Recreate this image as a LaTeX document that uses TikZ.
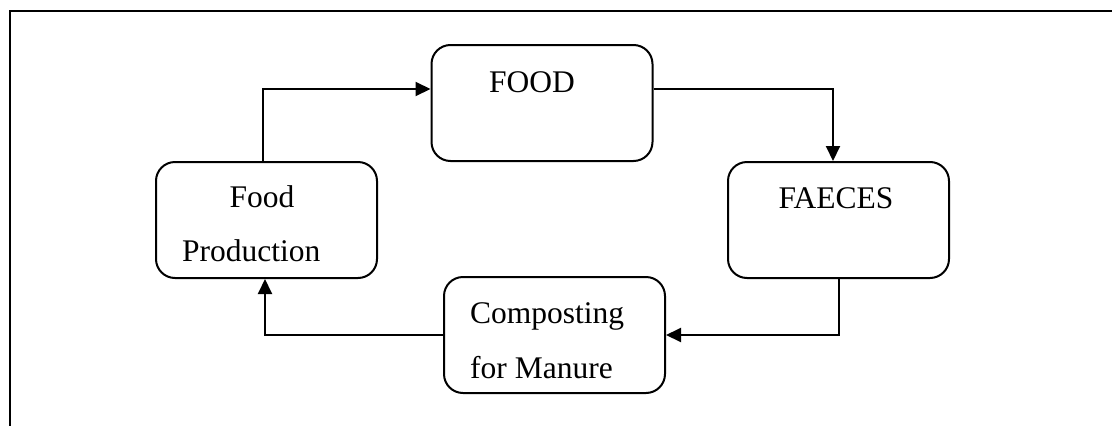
\documentclass[tikz,border=0pt]{standalone}
\usepackage{fontspec}
\setmainfont{Liberation Serif}
\usetikzlibrary{arrows.meta}
\begin{document}
\begin{tikzpicture}[x=1pt,y=-1pt,
  box/.style={draw,line width=2pt,rounded corners=19pt,minimum width=221pt,minimum height=116pt,inner sep=0pt},
  lbl/.style={inner sep=0pt,font=\fontsize{31.5}{38}\selectfont},
  arr/.style={line width=2pt,-{Triangle[length=15pt,width=14pt]}}]
\useasboundingbox (0,0) rectangle (1112,426);
\draw[line width=2pt] (10,426) -- (10,11) -- (1113,11);
\node[box] (food) at (542,103) {};
\node[box] (fp) at (266.5,220) {};
\node[box] (faeces) at (838.5,220) {};
\node[box] (comp) at (554.5,335) {};
\node[lbl,anchor=base] (tfood) at (532,92) {FOOD};
\node[lbl,anchor=base] (tfp1) at (262,207) {Food};
\node[lbl,anchor=base west] (tfp2) at (182,261) {Production};
\node[lbl,anchor=base] (tfaeces) at (836,208) {FAECES};
\node[lbl,anchor=base west] (tcomp1) at (470,323) {Composting};
\node[lbl,anchor=base west] (tcomp2) at (470,378) {for Manure};
\draw[arr] ([xshift=-3.5pt]fp.north) |- ([yshift=14pt]food.west);
\draw[arr] ([yshift=14pt]food.east) -| ([xshift=-5.5pt]faeces.north);
\draw[arr] (faeces.south) |- (comp.east);
\draw[arr] (comp.west) -| ([xshift=-1.5pt]fp.south);
\end{tikzpicture}
\end{document}
